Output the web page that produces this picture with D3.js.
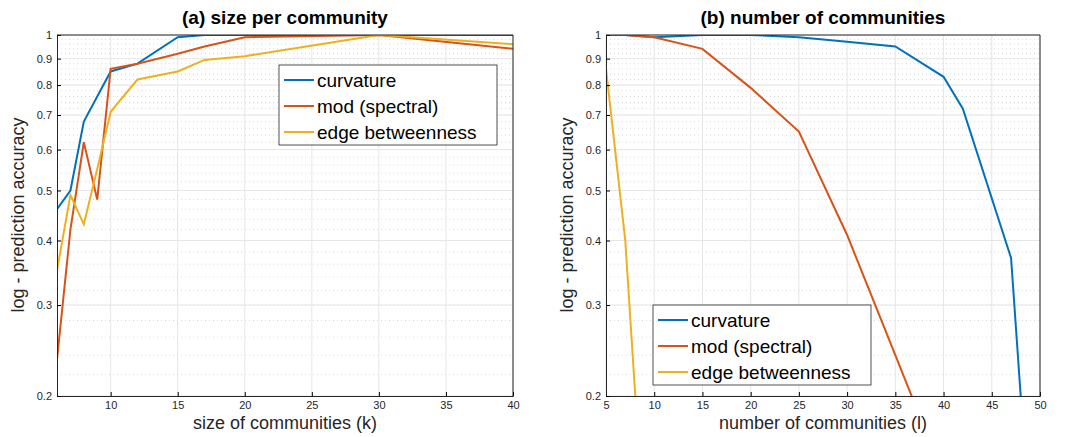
<!DOCTYPE html>
<html>
<head>
<script src="https://d3js.org/d3.v7.min.js"></script>
<style>
  body { margin: 0; background: #fff; font-family: Helvetica, Arial, "Liberation Sans", sans-serif; }
  .tick text { font-size: 11px; fill: #262626; }
</style>
</head>
<body>
<svg id="chart" width="1077" height="437"></svg>
<script>
// left panel data
const kA = [6, 7, 8, 9, 10, 12, 15, 17, 20, 30, 40];
const curvA = [0.46, 0.50, 0.68, 0.76, 0.85, 0.88, 0.99, 1.0, 1.0, 1.0, 1.0];
const modA = [0.235, 0.42, 0.62, 0.48, 0.86, 0.88, 0.92, 0.95, 0.99, 1.0, 0.94];
const ebA = [0.35, 0.49, 0.43, 0.55, 0.71, 0.82, 0.85, 0.895, 0.91, 1.0, 0.96];
// right panel data
const lB = [5, 7, 10, 15, 20, 25, 30, 35, 40, 42, 47, 48];
const curvB = [1.0, 1.0, 0.99, 1.0, 1.0, 0.99, 0.97, 0.95, 0.83, 0.72, 0.37, 0.2];
const modB = [1.0, 1.0, 0.99, 0.94, 0.79, 0.65, 0.41, 0.24, 0.14, 0.12, 0.1, 0.1];
const lEb = [5, 7, 8, 9];
const ebB = [0.86, 0.40, 0.205, 0.12];

const names = ["curvature", "mod (spectral)", "edge betweenness"];
const colors = ["#0072BD", "#D95319", "#EDB120"];
const yTicks = [0.2, 0.3, 0.4, 0.5, 0.6, 0.7, 0.8, 0.9, 1];
const yMinor = d3.range(0.22, 1.0, 0.02);

const svg = d3.select("#chart");

function panel(o) {
  const x = d3.scaleLinear().domain(o.xDomain).range([o.left, o.right]);
  const y = d3.scaleLog().domain([0.2, 1]).range([396, 35]);
  const g = svg.append("g");
  const clipId = "clip" + o.id;
  g.append("clipPath").attr("id", clipId).append("rect")
    .attr("x", o.left).attr("y", 35).attr("width", o.right - o.left).attr("height", 361);

  // grid
  g.selectAll(".ym").data(yMinor).enter().append("line")
    .attr("x1", o.left).attr("x2", o.right).attr("y1", d => y(d)).attr("y2", d => y(d))
    .attr("stroke", "#d8d8d8").attr("stroke-dasharray", "1,3");
  g.selectAll(".yg").data(yTicks).enter().append("line")
    .attr("x1", o.left).attr("x2", o.right).attr("y1", d => y(d)).attr("y2", d => y(d))
    .attr("stroke", "#e6e6e6");
  g.selectAll(".xg").data(o.xTicks).enter().append("line")
    .attr("x1", d => x(d)).attr("x2", d => x(d)).attr("y1", 35).attr("y2", 396)
    .attr("stroke", "#e6e6e6");

  // lines
  const line = d3.line().x(d => x(d[0])).y(d => y(d[1]));
  o.series.forEach((s, i) => {
    g.append("path").datum(d3.zip(s.x, s.y))
      .attr("clip-path", `url(#${clipId})`)
      .attr("fill", "none").attr("stroke", colors[i]).attr("stroke-width", 2)
      .attr("d", line);
  });

  // axes
  g.append("g").attr("transform", "translate(0,396)")
    .call(d3.axisBottom(x).tickValues(o.xTicks).tickSize(-4).tickPadding(5).tickFormat(d3.format("d")))
    .call(a => a.select(".domain").attr("stroke", "#262626"));
  g.append("g").attr("transform", `translate(${o.left},0)`)
    .call(d3.axisLeft(y).tickValues(yTicks).tickSize(-4).tickPadding(5).tickFormat(d => d === 1 ? "1" : d3.format(".1f")(d)))
    .call(a => a.select(".domain").attr("stroke", "#262626"));
  g.append("line").attr("x1", o.left).attr("x2", o.right).attr("y1", 35).attr("y2", 35).attr("stroke", "#262626");
  g.append("line").attr("x1", o.right).attr("x2", o.right).attr("y1", 35).attr("y2", 396).attr("stroke", "#262626");

  // labels
  g.append("text").attr("x", (o.left + o.right) / 2).attr("y", 24).attr("text-anchor", "middle")
    .attr("font-size", 19).attr("font-weight", "bold").text(o.title);
  g.append("text").attr("x", (o.left + o.right) / 2).attr("y", 429).attr("text-anchor", "middle")
    .attr("font-size", 18).attr("fill", "#262626").text(o.xLabel);
  g.append("text").attr("transform", `translate(${o.left - 33},215) rotate(-90)`).attr("text-anchor", "middle")
    .attr("font-size", 18).attr("fill", "#262626").text("log - prediction accuracy");

  // legend
  const L = o.legend;
  g.append("rect").attr("x", L.x).attr("y", L.y).attr("width", 218).attr("height", 80)
    .attr("fill", "#fff").attr("stroke", "#262626").attr("stroke-width", 0.8);
  names.forEach((n, i) => {
    const yy = L.y + 15 + i * 26;
    g.append("line").attr("x1", L.x + 5).attr("x2", L.x + 35).attr("y1", yy).attr("y2", yy)
      .attr("stroke", colors[i]).attr("stroke-width", 2);
    g.append("text").attr("x", L.x + 38).attr("y", yy + 7).attr("font-size", 19).attr("fill", "#000").text(n);
  });
}

panel({
  id: "a", left: 57, right: 513, xDomain: [6, 40], xTicks: [10, 15, 20, 25, 30, 35, 40],
  title: "(a) size per community", xLabel: "size of communities (k)",
  legend: { x: 279, y: 65 },
  series: [{ x: kA, y: curvA }, { x: kA, y: modA }, { x: kA, y: ebA }]
});
panel({
  id: "b", left: 606, right: 1040, xDomain: [5, 50], xTicks: [5, 10, 15, 20, 25, 30, 35, 40, 45, 50],
  title: "(b) number of communities", xLabel: "number of communities (l)",
  legend: { x: 653, y: 305 },
  series: [{ x: lB, y: curvB }, { x: lB, y: modB }, { x: lEb, y: ebB }]
});
</script>
</body>
</html>
